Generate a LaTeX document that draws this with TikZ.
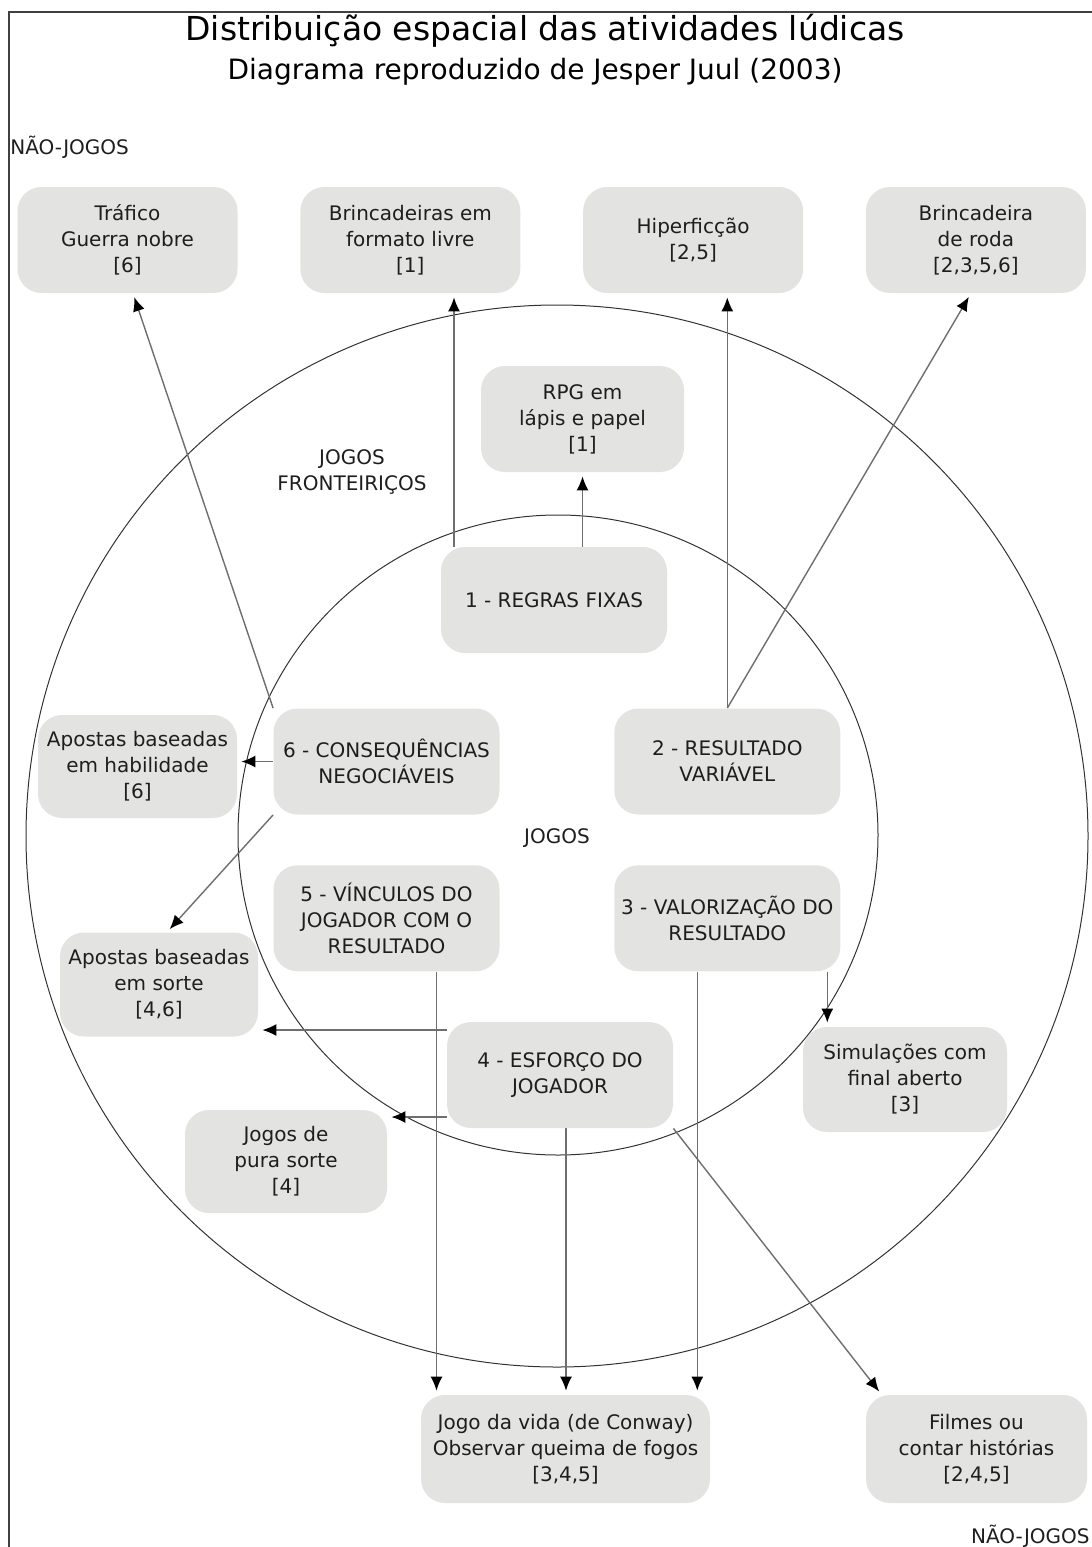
\documentclass[tikz,border=0pt]{standalone}
\usepackage{fontspec}
\setmainfont{DejaVu Sans}
\usetikzlibrary{positioning,arrows.meta,backgrounds}
\definecolor{boxgray}{RGB}{227,227,225}
\definecolor{txtgray}{RGB}{30,30,30}
\definecolor{linegray}{RGB}{110,110,110}
\tikzstyle{gbox}=[rectangle, rounded corners=12pt, fill=boxgray, minimum height=53pt, inner sep=2pt, align=center, text=txtgray, font=\fontsize{10}{13}\selectfont]
\tikzstyle{cbox}=[gbox, minimum width=113pt]
\tikzstyle{obox}=[gbox, minimum width=110pt]
\tikzstyle{plabel}=[text=txtgray, align=center, font=\fontsize{10}{13}\selectfont]
\tikzstyle{parrow}=[-{Latex[length=7pt,width=6pt,color=black]}, line width=0.7pt, draw=linegray, shorten >=2pt]
\tikzstyle{ring}=[draw=black!80, line width=0.5pt]

\begin{document}
\begin{tikzpicture}[x=0.5pt,y=-0.5pt,node distance=0pt]
\useasboundingbox (0,0) rectangle (1092,1547);
\draw[line width=1pt, black!75] (9,1547) -- (9,12) -- (1092,12);
\node (TITLE) at (545,31) [text=black, font=\fontsize{16.5}{19}\selectfont] {Distribuição espacial das atividades lúdicas};
\node (SUB) at (535,72) [text=black, font=\fontsize{14}{17}\selectfont] {Diagrama reproduzido de Jesper Juul (2003)};
\node (NJ1) at (10,147) [plabel, anchor=west, inner sep=0pt] {NÃO-JOGOS};
\node (NJ2) at (1090,1536) [plabel, anchor=east, inner sep=0pt] {NÃO-JOGOS};
\node (LFRONT) at (352,472) [plabel] {JOGOS\\FRONTEIRIÇOS};
\node (LJOGOS) at (557,838) [plabel] {JOGOS};

\node (TRAF) at (127.5,240) [obox] {Tráfico\\Guerra nobre\\{[6]}};
\node (BRINC) [obox,right=31pt of TRAF] {Brincadeiras em\\formato livre\\{[1]}};
\node (HIPER) [obox,right=31pt of BRINC] {Hiperficção\\{[2,5]}};
\node (RODA) [obox,right=31pt of HIPER] {Brincadeira\\de roda\\{[2,3,5,6]}};
\node (RPG) at (582.5,419) [gbox, minimum width=101.5pt] {RPG em\\lápis e papel\\{[1]}};
\node (REGRAS) at (554,600) [cbox] {1 - REGRAS FIXAS};
\node (CONSEQ) at (386.5,761.5) [cbox] {6 - CONSEQUÊNCIAS\\NEGOCIÁVEIS};
\node (RESVAR) [cbox,right=57pt of CONSEQ] {2 - RESULTADO\\VARIÁVEL};
\node (VINC) [cbox,below=25pt of CONSEQ] {5 - VÍNCULOS DO\\JOGADOR COM O\\RESULTADO};
\node (VALOR) [cbox,below=25pt of RESVAR] {3 - VALORIZAÇÃO DO\\RESULTADO};
\node (ESFORCO) at (560,1075) [cbox] {4 - ESFORÇO DO\\JOGADOR};
\node (APHAB) at (137.5,766.5) [gbox, minimum width=99.5pt, minimum height=51.5pt] {Apostas baseadas\\em habilidade\\{[6]}};
\node (APSORTE) at (159,984.5) [gbox, minimum width=99pt, minimum height=52pt] {Apostas baseadas\\em sorte\\{[4,6]}};
\node (SIMUL) at (905,1079.5) [gbox, minimum width=102pt, minimum height=52.5pt] {Simulações com\\final aberto\\{[3]}};
\node (PURA) at (286,1161.5) [gbox, minimum width=101pt, minimum height=51.5pt] {Jogos de\\pura sorte\\{[4]}};
\node (VIDA) at (565.5,1449) [gbox, minimum width=144.5pt, minimum height=54pt] {Jogo da vida (de Conway)\\Observar queima de fogos\\{[3,4,5]}};
\node (FILMES) at (976.5,1449) [gbox, minimum width=110.5pt, minimum height=54pt] {Filmes ou\\contar histórias\\{[2,4,5]}};

\begin{scope}[on background layer]
\draw[ring] (557,836) circle[radius=265.5pt];
\draw[ring] (558,835) circle[radius=160pt];
\draw[parrow] (CONSEQ.north west) -- ([xshift=2.75pt]TRAF.south);
\draw[parrow] ([xshift=-50pt]REGRAS.north) -- ([xshift=-50pt]REGRAS.north |- BRINC.south);
\draw[parrow] (RPG.south |- REGRAS.north) -- (RPG.south);
\draw[parrow] (RESVAR.north) -- (RESVAR.north |- HIPER.south);
\draw[parrow] (RESVAR.north) -- ([xshift=-2.5pt]RODA.south);
\draw[parrow] (CONSEQ.west) -- (CONSEQ.west -| APHAB.east);
\draw[parrow] (CONSEQ.south west) -- ([xshift=4pt]APSORTE.north);
\draw[parrow] ([yshift=22.5pt]ESFORCO.west) -- ([yshift=22.5pt]ESFORCO.west -| APSORTE.east);
\draw[parrow] ([yshift=-21pt]ESFORCO.west) -- ([yshift=-21pt]ESFORCO.west -| PURA.east);
\draw[parrow] ([xshift=25pt]VINC.south) -- ([xshift=25pt]VINC.south |- VIDA.north);
\draw[parrow] ([xshift=3pt]ESFORCO.south) -- ([xshift=3pt]ESFORCO.south |- VIDA.north);
\draw[parrow] ([xshift=-15pt]VALOR.south) -- ([xshift=-15pt]VALOR.south |- VIDA.north);
\draw[parrow] ([xshift=50pt]VALOR.south) -- ([xshift=50pt]VALOR.south |- SIMUL.north);
\draw[parrow] (ESFORCO.south east) -- ([xshift=8pt]FILMES.north west);
\end{scope}
\end{tikzpicture}
\end{document}
